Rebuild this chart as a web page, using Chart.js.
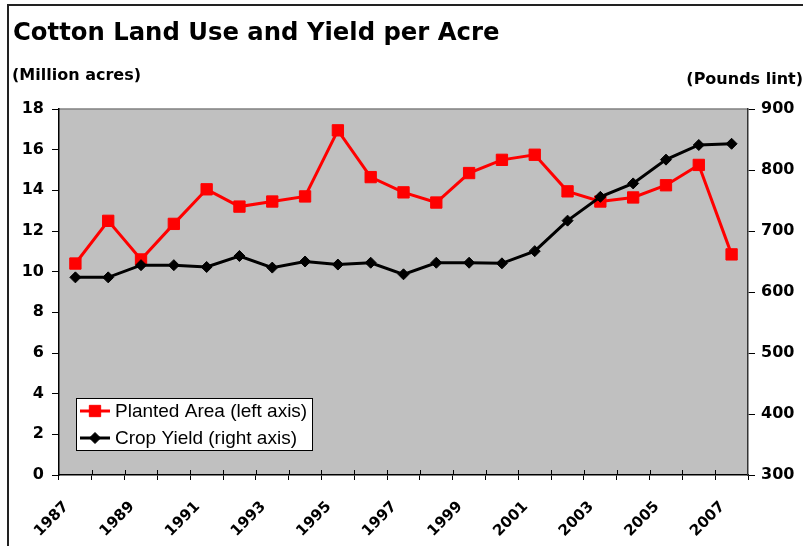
<!DOCTYPE html>
<html>
<head>
<meta charset="utf-8">
<script src="https://cdn.jsdelivr.net/npm/chart.js@4"></script>
<style>
  html, body { margin: 0; padding: 0; background: #fff; overflow: hidden; }
  #wrap { position: relative; width: 807px; height: 546px; }
  #frame { position: absolute; left: 7px; top: 4px; width: 794px; height: 600px;
           border-top: 2px solid #222; border-left: 2px solid #222; }
  .txt { position: absolute; font-family: "DejaVu Sans", sans-serif; font-weight: bold; color: #000; white-space: nowrap; }
  #title { left: 13px; top: 20px; font-size: 24.3px; line-height: 24px; }
  #unitLeft { left: 12px; top: 67px; font-size: 16px; line-height: 16px; }
  #unitRight { right: 4px; top: 71px; font-size: 16px; line-height: 16px; }
  canvas { position: absolute; left: 0; top: 0; }
</style>
</head>
<body>
<div id="wrap">
  <canvas id="chart" width="807" height="546"></canvas>
  <div id="frame"></div>
  <div class="txt" id="title">Cotton Land Use and Yield per Acre</div>
  <div class="txt" id="unitLeft">(Million acres)</div>
  <div class="txt" id="unitRight">(Pounds lint)</div>
</div>
<script>
const years = ["1987", "1988", "1989", "1990", "1991", "1992", "1993", "1994", "1995", "1996", "1997",
  "1998", "1999", "2000", "2001", "2002", "2003", "2004", "2005", "2006", "2007"];
const plantedArea = [10.4, 12.5, 10.6, 12.35, 14.05, 13.2, 13.45, 13.7, 16.95, 14.65, 13.9,
  13.4, 14.85, 15.5, 15.75, 13.95, 13.45, 13.65, 14.25, 15.25, 10.85];
const cropYield = [624, 624, 644, 644, 641, 659, 640, 650, 645, 648, 629,
  648, 648, 647, 667, 717, 756, 778, 817, 841, 843];
const leftAxis = { min: 0, max: 18, step: 2 };
const rightAxis = { min: 300, max: 900, step: 100 };

const tickFont = { family: "DejaVu Sans", size: 16, weight: "bold" };

// grey plot area with a thin darker top edge
const plotBackground = {
  id: "plotBackground",
  beforeDraw(chart) {
    const { ctx, chartArea: a } = chart;
    ctx.save();
    ctx.fillStyle = "#c0c0c0";
    ctx.fillRect(a.left, a.top, a.right - a.left, a.bottom - a.top);
    ctx.strokeStyle = "#808080";
    ctx.lineWidth = 1.5;
    ctx.beginPath();
    ctx.moveTo(a.left, a.top);
    ctx.lineTo(a.right, a.top);
    ctx.stroke();
    ctx.restore();
  },
};

// category ticks also poke a few px up into the plot, like the original
const innerTicks = {
  id: "innerTicks",
  afterDraw(chart) {
    const { ctx } = chart;
    const xs = chart.scales.x;
    const n = xs.getLabels().length;
    const step = (xs.right - xs.left) / n;
    ctx.save();
    ctx.strokeStyle = "#000";
    ctx.lineWidth = 1;
    for (let i = 1; i < n; i++) {
      const px = Math.round(xs.left + i * step) + 0.5;
      ctx.beginPath();
      ctx.moveTo(px, xs.top - 5);
      ctx.lineTo(px, xs.top);
      ctx.stroke();
    }
    ctx.restore();
  },
};

// boxed legend drawn inside the plot, bottom left
const innerLegend = {
  id: "innerLegend",
  afterDatasetsDraw(chart) {
    const { ctx, chartArea: a } = chart;
    const x = a.left + 17, w = 236, h = 52, y = a.bottom - 25 - h;
    ctx.save();
    ctx.fillStyle = "#fff";
    ctx.fillRect(x, y, w, h);
    ctx.strokeStyle = "#000";
    ctx.lineWidth = 1;
    ctx.strokeRect(x + 0.5, y + 0.5, w, h);
    ctx.font = "19px 'Liberation Sans', Arial, sans-serif";
    ctx.textBaseline = "middle";
    ctx.fillStyle = "#000";
    chart.data.datasets.forEach((ds, i) => {
      const cy = y + 13 + i * 27;
      ctx.strokeStyle = ds.borderColor;
      ctx.lineWidth = 3;
      ctx.beginPath();
      ctx.moveTo(x + 4, cy);
      ctx.lineTo(x + 34, cy);
      ctx.stroke();
      ctx.fillStyle = ds.pointBackgroundColor;
      ctx.strokeStyle = ds.pointBorderColor;
      ctx.lineWidth = 1;
      Chart.helpers.drawPoint(ctx, { pointStyle: ds.pointStyle, radius: ds.pointRadius, borderWidth: 1 }, x + 19, cy);
      ctx.fillStyle = "#000";
      ctx.fillText(ds.label, x + 39, cy + 1);
    });
    ctx.restore();
  },
};

new Chart(document.getElementById("chart"), {
  type: "line",
  data: {
    labels: years,
    datasets: [
      {
        label: "Planted Area (left axis)",
        data: plantedArea,
        yAxisID: "yLeft",
        borderColor: "#ff0000",
        borderWidth: 3,
        pointStyle: "rect",
        pointRadius: 8,
        pointBackgroundColor: "#ff0000",
        pointBorderColor: "#ff0000",
        pointBorderWidth: 1,
        tension: 0,
        order: 2,
      },
      {
        label: "Crop Yield (right axis)",
        data: cropYield,
        yAxisID: "yRight",
        borderColor: "#000000",
        borderWidth: 3,
        pointStyle: "rectRot",
        pointRadius: 5.5,
        pointBackgroundColor: "#000000",
        pointBorderColor: "#000000",
        pointBorderWidth: 1,
        tension: 0,
        order: 1,
      },
    ],
  },
  options: {
    responsive: false,
    animation: false,
    layout: { padding: { top: 109, left: 0, right: 0, bottom: 0 } },
    plugins: { legend: { display: false }, tooltip: { enabled: false }, title: { display: false } },
    scales: {
      x: {
        type: "category",
        offset: true,
        afterFit: (s) => { s.height = 71; },
        grid: { offset: true, drawOnChartArea: false, drawTicks: true, tickLength: 5, color: "#000", lineWidth: 1 },
        border: { display: true, color: "#000", width: 1.5 },
        ticks: {
          autoSkip: false,
          maxRotation: 45,
          minRotation: 45,
          padding: 18,
          labelOffset: -9,
          color: "#000",
          font: { family: "DejaVu Sans", size: 15, weight: "bold" },
          callback: function (v, i) { return i % 2 === 0 ? this.getLabelForValue(v) : ""; },
        },
      },
      yLeft: {
        position: "left",
        min: leftAxis.min,
        max: leftAxis.max,
        afterFit: (s) => { s.width = 59; },
        grid: { drawOnChartArea: false, drawTicks: true, tickLength: 7, color: "#000" },
        border: { display: true, color: "#000", width: 1.5 },
        ticks: { stepSize: leftAxis.step, padding: 8, color: "#000", font: tickFont },
      },
      yRight: {
        position: "right",
        min: rightAxis.min,
        max: rightAxis.max,
        afterFit: (s) => { s.width = 59; },
        grid: { drawOnChartArea: false, drawTicks: true, tickLength: 7, color: "#000" },
        border: { display: true, color: "#333", width: 1.5 },
        ticks: { stepSize: rightAxis.step, padding: 6, color: "#000", font: tickFont },
      },
    },
  },
  plugins: [plotBackground, innerTicks, innerLegend],
});
</script>
</body>
</html>
